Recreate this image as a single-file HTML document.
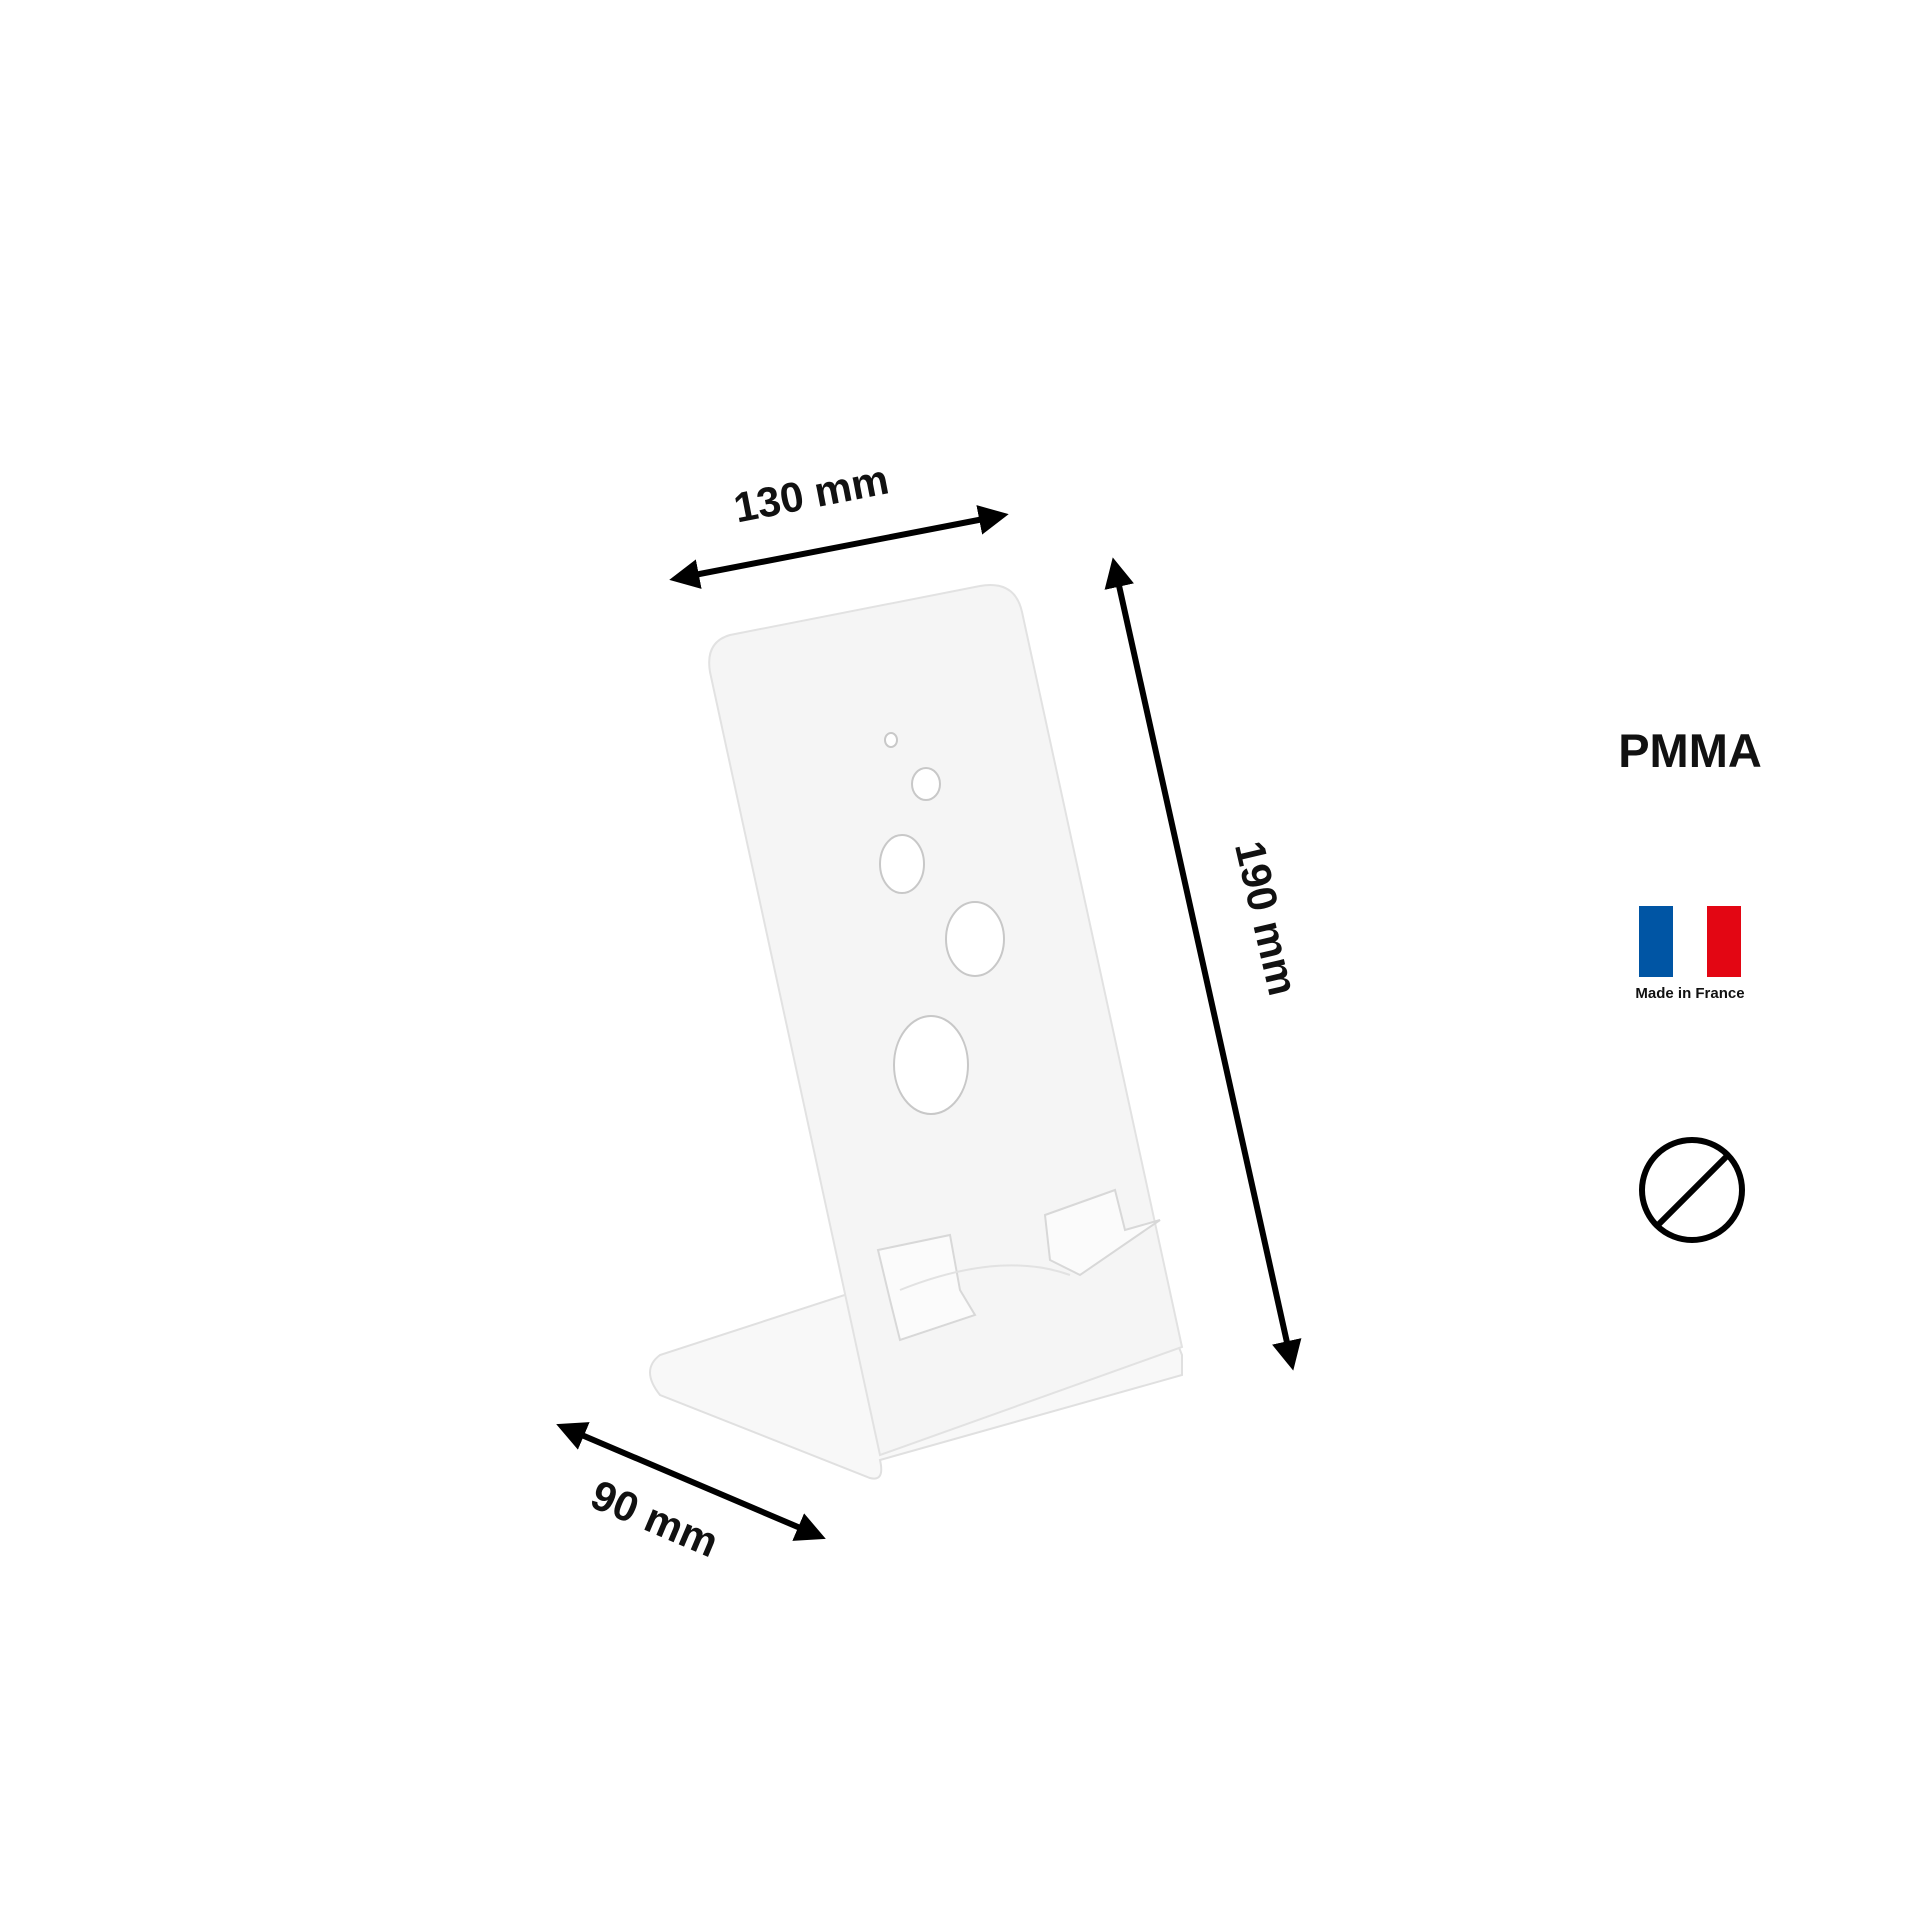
<!DOCTYPE html>
<html><head><meta charset="utf-8"><style>
html,body{margin:0;padding:0;background:#fff;}
svg{display:block}
text{font-family:"Liberation Sans",sans-serif;font-weight:bold;fill:#111}
</style></head><body>
<svg width="1920" height="1920" viewBox="0 0 1920 1920" xmlns="http://www.w3.org/2000/svg">
<defs>
<marker id="ah" markerWidth="5" markerHeight="5" refX="2.5" refY="2.5" orient="auto-start-reverse" markerUnits="strokeWidth">
<path d="M0,0 L5,2.5 L0,5 z" fill="#000"/>
</marker>
</defs>
<!-- stand base -->
<path d="M660,1355 Q640,1370 660,1395 L870,1478 Q885,1482 880,1460 L1182,1375 L1182,1355 L1160,1300 L860,1290 Z" fill="#f8f8f8" stroke="#e0e0e0" stroke-width="2"/>
<!-- back plate -->
<path d="M730,635 L980,586 Q1015,580 1022,612 L1182,1347 L880,1455 L710,672 Q705,642 730,635 Z" fill="#f5f5f5" stroke="#e2e2e2" stroke-width="2"/>
<path d="M1045,1215 L1115,1190 L1125,1230 L1160,1220 L1080,1275 L1050,1260 Z" fill="#fbfbfb" stroke="#d8d8d8" stroke-width="2"/>
<path d="M878,1250 L950,1235 L960,1290 L975,1315 L900,1340 L890,1300 Z" fill="#fbfbfb" stroke="#d8d8d8" stroke-width="2"/>
<path d="M900,1290 Q1000,1250 1070,1275" fill="none" stroke="#e2e2e2" stroke-width="2"/>
<!-- holes -->
<g fill="#fff" stroke="#c8c8c8" stroke-width="2">
<ellipse cx="891" cy="740" rx="6" ry="7"/>
<ellipse cx="926" cy="784" rx="14" ry="16"/>
<ellipse cx="902" cy="864" rx="22" ry="29"/>
<ellipse cx="975" cy="939" rx="29" ry="37"/>
<ellipse cx="931" cy="1065" rx="37" ry="49"/>
</g>
<!-- dimension arrows -->
<g stroke="#000" stroke-width="6" fill="none">
<line x1="684" y1="577" x2="994" y2="517" marker-start="url(#ah)" marker-end="url(#ah)"/>
<line x1="1116" y1="572" x2="1290" y2="1356" marker-start="url(#ah)" marker-end="url(#ah)"/>
<line x1="570" y1="1430" x2="812" y2="1533" marker-start="url(#ah)" marker-end="url(#ah)"/>
</g>
<text x="811" y="508" font-size="42" text-anchor="middle" transform="rotate(-11 811 493)">130 mm</text>
<text x="1267" y="933" font-size="42" text-anchor="middle" transform="rotate(77 1267 918)">190 mm</text>
<text x="655" y="1533" font-size="42" text-anchor="middle" transform="rotate(23 655 1518)">90 mm</text>
<!-- right panel -->
<text x="1690" y="767" font-size="47" text-anchor="middle">PMMA</text>
<rect x="1639" y="906" width="34" height="71" fill="#0055a4"/>
<rect x="1707" y="906" width="34" height="71" fill="#e30613"/>
<text x="1690" y="998" font-size="15" text-anchor="middle" fill="#222">Made in France</text>
<circle cx="1692" cy="1190" r="50" fill="none" stroke="#000" stroke-width="6"/>
<line x1="1658" y1="1225" x2="1727" y2="1156" stroke="#000" stroke-width="6"/>
</svg>
</body></html>
